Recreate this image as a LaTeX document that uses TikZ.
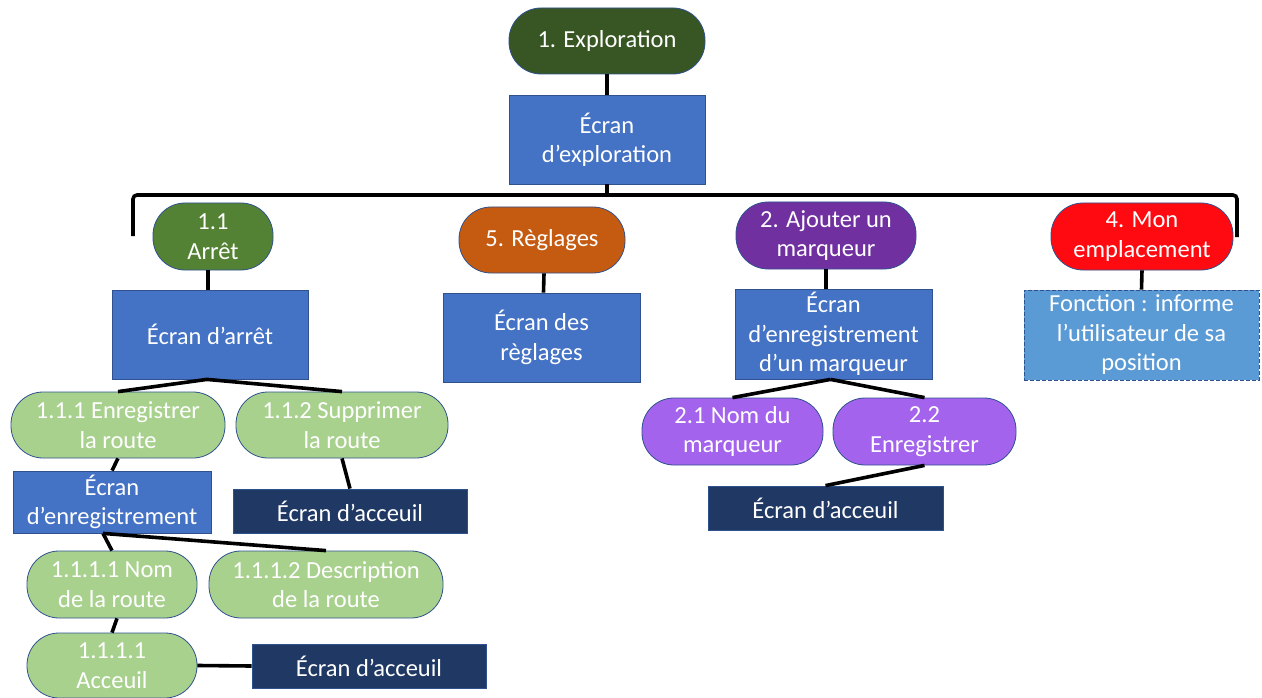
\documentclass[tikz,border=0pt]{standalone}
\usepackage{fontspec}
\setmainfont{Carlito}
\definecolor{darkgreen}{HTML}{375623}
\definecolor{midgreen}{HTML}{548235}
\definecolor{lightgreen}{HTML}{A9D18E}
\definecolor{screenblue}{HTML}{4472C4}
\definecolor{navy}{HTML}{203864}
\definecolor{orange}{HTML}{C55A11}
\definecolor{purple}{HTML}{7030A0}
\definecolor{lightpurple}{HTML}{A463EC}
\definecolor{brightred}{HTML}{FF0A10}
\definecolor{skyblue}{HTML}{5B9BD5}
\definecolor{edge}{HTML}{2F528F}
\tikzset{
  base/.style={draw=edge, line width=0.8pt, text=white, align=center,
    inner sep=0pt, font=\fontsize{24.5}{29.5}\selectfont},
  pill/.style={base, rectangle, rounded corners=32pt},
  screen/.style={base, rectangle, fill=screenblue},
  home/.style={base, rectangle, fill=navy},
  conn/.style={line width=3.6pt, draw=black},
  sz/.style 2 args={minimum width=#1pt, minimum height=#2pt},
}
\begin{document}
\begin{tikzpicture}[x=1pt,y=-1pt]
\useasboundingbox (0,0) rectangle (1262,698);

% root and its screen
\node[pill, fill=darkgreen, sz={196}{66}] (expl) at (607,41) {1. Exploration};
\node[screen, sz={196}{89}] (ecexpl) at (607,139.5) {Écran\\d’exploration};

% main bracket
\coordinate (brk) at (607,195);
\coordinate (brL0) at (133,236);
\coordinate (brL) at (133,195);
\coordinate (brR) at (1237,195);
\coordinate (brR0) at (1237,237);
\draw[conn, rounded corners=4pt] (brL0) -- (brL) -- (brR) -- (brR0);
\draw[conn] (expl.south) -- (ecexpl.north);
\draw[conn] (ecexpl.south) -- (brk);

% branch 1.1
\node[pill, fill=midgreen, sz={120}{67}] (arret) at (213,236.5) {1.1\\Arrêt};
\node[screen, sz={196}{89}] (ecarret) at (210,334.5) {Écran d’arrêt};
\node[pill, fill=lightgreen, sz={214}{66}] (e111) at (118,425) {1.1.1 Enregistrer\\la route};
\node[pill, fill=lightgreen, sz={212}{66}] (e112) at (342,425) {1.1.2 Supprimer\\la route};
\node[screen, sz={198}{62}] (ecenr) at (112,502) {Écran\\d’enregistrement};
\node[home, sz={234}{44}] (acc1) at (350,511) {Écran d’acceuil};
\node[pill, fill=lightgreen, sz={170}{67}] (nom) at (112,584.5) {1.1.1.1 Nom\\de la route};
\node[pill, fill=lightgreen, sz={234}{67}] (desc) at (326,584.5) {1.1.1.2 Description\\de la route};
\node[pill, fill=lightgreen, sz={170}{65}] (acc) at (112,665.5) {1.1.1.1\\Acceuil};
\node[home, sz={234}{44}] (acc3) at (369,666) {Écran d’acceuil};

\draw[conn] ([xshift=-2pt]ecarret.north |- arret.south) -- ([xshift=-2pt]ecarret.north);
\draw[conn] ([xshift=-3pt]ecarret.south) -- (e111.north);
\draw[conn] ([xshift=-3pt]ecarret.south) -- (e112.north);
\draw[conn] (e111.south) -- (ecenr.north);
\draw[conn] (e112.south) -- (acc1.north);
\draw[conn] ([xshift=-9pt]ecenr.south) -- (nom.north);
\draw[conn] ([xshift=-9pt]ecenr.south) -- (desc.north);
\draw[conn] ([xshift=5pt]nom.south) -- (acc.north);
\draw[conn] (acc.east) -- (acc3.west);

% branch 5
\node[pill, fill=orange, sz={166}{66}] (regl) at (542,240) {5. Règlages};
\node[screen, sz={197}{89}] (ecregl) at (541.5,337.5) {Écran des\\règlages};
\draw[conn] ([xshift=2pt]regl.south) -- ([xshift=2pt]ecregl.north);

% branch 2
\node[pill, fill=purple, sz={180}{67}] (ajout) at (826,235.5) {2. Ajouter un\\marqueur};
\node[screen, sz={197}{90}] (ecmarq) at (833.5,334) {Écran\\d’enregistrement\\d’un marqueur};
\node[pill, fill=lightpurple, sz={181}{67}] (e21) at (732.5,431.5) {2.1 Nom du\\marqueur};
\node[pill, fill=lightpurple, sz={183}{67}] (e22) at (924.5,431.5) {2.2\\Enregistrer};
\node[home, sz={235}{44}] (acc2) at (825.5,508) {Écran d’acceuil};
\draw[conn] (ajout.south) -- (ajout.south |- ecmarq.north);
\draw[conn] ([xshift=-3pt]ecmarq.south) -- (e21.north);
\draw[conn] ([xshift=-3pt]ecmarq.south) -- (e22.north);
\draw[conn] (e22.south) -- (acc2.north);

% branch 4
\node[pill, fill=brightred, sz={182}{67}] (mon) at (1142,236.5) {4. Mon\\emplacement};
\node[base, rectangle, fill=skyblue, dash pattern=on 4pt off 2pt, sz={235}{90}] (fonc) at (1141.5,335) {Fonction : informe\\l’utilisateur de sa\\position};
\draw[conn] (mon.south) -- (fonc.north);
\end{tikzpicture}
\end{document}
